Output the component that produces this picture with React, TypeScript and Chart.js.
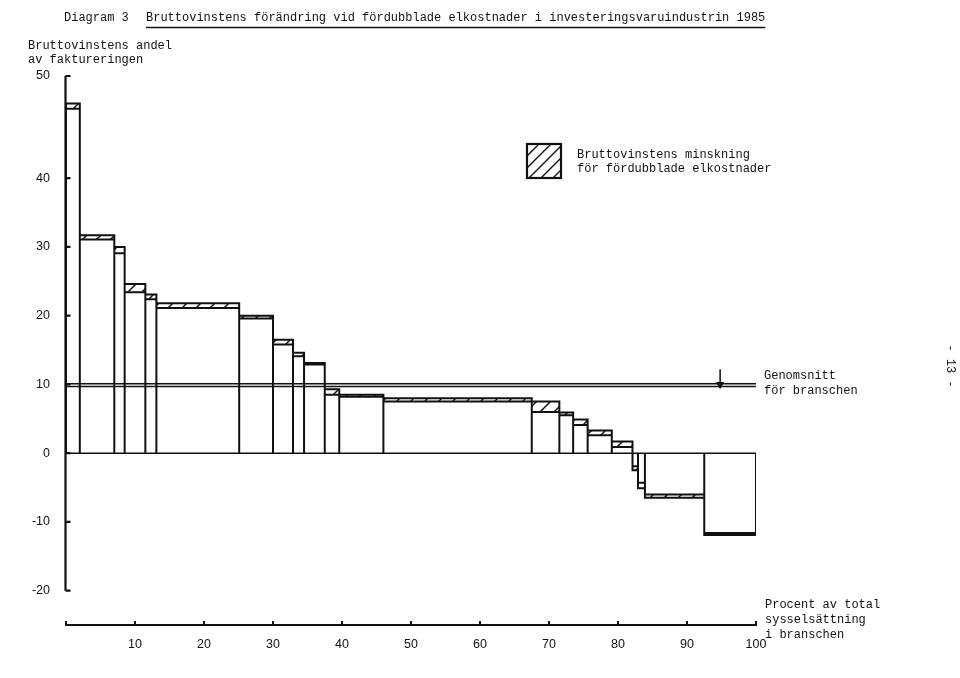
import React, { useEffect, useRef } from 'react';
import { Chart, registerables, LinearScale } from 'chart.js';

Chart.register(...registerables);

// ---- Data ----
// Share of total employment in the industry group for each branch (%), left to right
const employmentShare = [2.0, 5.0, 1.5, 3.0, 1.6, 12.0, 4.9, 2.9, 1.6, 3.0, 2.1, 6.4, 21.5, 4.0, 2.0, 2.1, 3.5, 3.0, 0.8, 1.0, 8.6, 7.5];
// Gross profit as share of invoicing, before doubled electricity costs (%)
const profitBefore = [47.3, 31.7, 30.0, 24.6, 23.1, 21.8, 20.0, 16.5, 14.6, 13.1, 9.3, 8.5, 8.0, 7.5, 5.9, 4.9, 3.3, 1.7, -1.9, -4.3, -6.0, -11.6];
// Gross profit as share of invoicing, after doubled electricity costs (%)
const profitAfter = [46.8, 31.1, 29.1, 23.4, 22.4, 21.1, 19.6, 15.8, 14.1, 12.9, 8.5, 8.2, 7.5, 6.0, 5.5, 4.1, 2.6, 0.9, -2.5, -5.1, -6.5, -11.9];
// Industry average (before / after)
const averageBefore = 10.1;
const averageAfter = 9.7;
const averageMarkerX = 94.8;
const averageMarkerTop = 12.2;

const xTicks = [0, 10, 20, 30, 40, 50, 60, 70, 80, 90, 100];
const yTicks = [-20, -10, 0, 10, 20, 30, 40, 50];
const Y_MIN = -25;

// The original y axis is compressed differently above 40 (the 50 tick sits higher)
const BREAK_AT = 40;
const STRETCH = 1.487;
function warp(v: any) {
  if (v === null || v === undefined) return v;
  return v > BREAK_AT ? BREAK_AT + (v - BREAK_AT) * STRETCH : v;
}
function unwarp(t: number) {
  return t > BREAK_AT ? BREAK_AT + (t - BREAK_AT) / STRETCH : t;
}

class BrokenLinearScale extends LinearScale {
  static id = 'brokenLinear';
  static defaults = (LinearScale as any).defaults;
  getPixelForValue(value: any) {
    return super.getPixelForValue(warp(value));
  }
  getValueForPixel(pixel: number) {
    return unwarp(super.getValueForPixel(pixel) as number);
  }
}
Chart.register(BrokenLinearScale as any);

const INK = '#111111';
const MONO = '"Liberation Mono", "DejaVu Sans Mono", monospace';
const SANS = '"Liberation Sans", "DejaVu Sans", sans-serif';

function makeHatch(size: number) {
  const c = document.createElement('canvas');
  c.width = size;
  c.height = size;
  const g = c.getContext('2d')!;
  g.fillStyle = '#ffffff';
  g.fillRect(0, 0, size, size);
  g.strokeStyle = INK;
  g.lineWidth = 1.5;
  g.beginPath();
  g.moveTo(0, size);
  g.lineTo(size, 0);
  g.moveTo(-2, 2);
  g.lineTo(2, -2);
  g.moveTo(size - 2, size + 2);
  g.lineTo(size + 2, size - 2);
  g.stroke();
  return g.createPattern(c, 'repeat');
}

const decorPlugin = {
  id: 'decor',
  afterDraw(chart: any) {
    const { ctx, chartArea } = chart;
    const x = chart.scales.x;
    const y = chart.scales.y;
    ctx.save();
    ctx.strokeStyle = INK;
    ctx.fillStyle = INK;

    // Y axis line with inward ticks
    const ax = chartArea.left - 0.5;
    ctx.lineWidth = 2.2;
    ctx.beginPath();
    ctx.moveTo(ax, y.getPixelForValue(yTicks[yTicks.length - 1]));
    ctx.lineTo(ax, y.getPixelForValue(yTicks[0]));
    yTicks.forEach((v) => {
      const py = y.getPixelForValue(v);
      ctx.moveTo(ax, py);
      ctx.lineTo(ax + 5, py);
    });
    ctx.stroke();

    // X axis line with inward ticks
    const by = chartArea.bottom;
    ctx.lineWidth = 2;
    ctx.beginPath();
    ctx.moveTo(x.getPixelForValue(xTicks[0]) - 1, by);
    ctx.lineTo(x.getPixelForValue(xTicks[xTicks.length - 1]) + 1, by);
    xTicks.forEach((v) => {
      const px = x.getPixelForValue(v);
      ctx.moveTo(px, by);
      ctx.lineTo(px, by - 4);
    });
    ctx.stroke();

    // Texts
    ctx.font = '12px ' + MONO;
    ctx.textBaseline = 'middle';
    ctx.textAlign = 'left';
    ctx.fillText('Diagram 3', 64, 18);
    const titleText = 'Bruttovinstens förändring vid fördubblade elkostnader i investeringsvaruindustrin 1985';
    ctx.fillText(titleText, 146, 18);
    const tw = ctx.measureText(titleText).width;
    ctx.lineWidth = 1.5;
    ctx.beginPath();
    ctx.moveTo(146, 27.5);
    ctx.lineTo(146 + tw, 27.5);
    ctx.stroke();

    ctx.fillText('Bruttovinstens andel', 28, 46);
    ctx.fillText('av faktureringen', 28, 60);

    // Legend
    const lx = 527, ly = 144, ls = 34;
    ctx.save();
    ctx.beginPath();
    ctx.rect(lx, ly, ls, ls);
    ctx.clip();
    ctx.lineWidth = 1.4;
    ctx.beginPath();
    for (let k = -ls; k <= ls * 2; k += 12) {
      ctx.moveTo(lx + k, ly + ls);
      ctx.lineTo(lx + k + ls, ly);
    }
    ctx.stroke();
    ctx.restore();
    ctx.lineWidth = 2.2;
    ctx.strokeRect(lx, ly, ls, ls);
    ctx.fillText('Bruttovinstens minskning', 577, 155);
    ctx.fillText('för fördubblade elkostnader', 577, 169);

    ctx.fillText('Genomsnitt', 764, 376);
    ctx.fillText('för branschen', 764, 391);

    ctx.fillText('Procent av total', 765, 605);
    ctx.fillText('sysselsättning', 765, 620);
    ctx.fillText('i branschen', 765, 635);

    // page number
    ctx.save();
    ctx.translate(950, 366);
    ctx.rotate(Math.PI / 2);
    ctx.textAlign = 'center';
    ctx.fillText('- 13 -', 0, 0);
    ctx.restore();

    ctx.restore();
  },
};

export default function App() {
  const ref = useRef<HTMLCanvasElement | null>(null);

  useEffect(() => {
    document.body.style.margin = '0';
    const canvas = ref.current;
    if (!canvas) return;
    const hatch = makeHatch(14);

    const bounds: number[] = [0];
    employmentShare.forEach((w) => bounds.push(Math.round((bounds[bounds.length - 1] + w) * 100) / 100));

    const outline: any[] = [];
    const inner: any[] = [];
    const hatchSets: any[] = [];
    profitBefore.forEach((b, i) => {
      const a = profitAfter[i];
      const x0 = bounds[i];
      const x1 = bounds[i + 1];
      const ext = Math.abs(b) >= Math.abs(a) ? b : a;
      const inn = ext === b ? a : b;
      outline.push({ x: x0, y: 0 }, { x: x0, y: ext }, { x: x1, y: ext }, { x: x1, y: 0 }, { x: x1, y: null });
      inner.push({ x: x0, y: inn }, { x: x1, y: inn }, { x: x1, y: null });
      hatchSets.push({
        data: [{ x: x0, y: ext }, { x: x1, y: ext }],
        borderColor: 'rgba(0,0,0,0)',
        borderWidth: 1,
        backgroundColor: hatch,
        fill: { value: inn },
        pointRadius: 0,
      });
    });

    const datasets: any[] = [
      { data: outline, borderColor: INK, borderWidth: 2, fill: false, pointRadius: 0 },
      { data: inner, borderColor: INK, borderWidth: 2, fill: false, pointRadius: 0 },
      { data: [{ x: 0, y: 0 }, { x: 100, y: 0 }], borderColor: INK, borderWidth: 1.5, fill: false, pointRadius: 0 },
      { data: [{ x: 0, y: averageBefore }, { x: 100, y: averageBefore }], borderColor: INK, borderWidth: 1.4, fill: false, pointRadius: 0 },
      { data: [{ x: 0, y: averageAfter }, { x: 100, y: averageAfter }], borderColor: INK, borderWidth: 1.4, fill: false, pointRadius: 0 },
      { data: [{ x: averageMarkerX, y: averageMarkerTop }, { x: averageMarkerX, y: averageBefore }], borderColor: INK, borderWidth: 1.5, fill: false, pointRadius: 0 },
      {
        data: [{ x: averageMarkerX, y: averageBefore - 0.1 }],
        showLine: false,
        pointStyle: 'triangle',
        rotation: 180,
        pointRadius: 4,
        pointBackgroundColor: INK,
        pointBorderColor: INK,
        pointBorderWidth: 1,
      },
      ...hatchSets,
    ];

    const tickFont = { family: SANS, size: 12.5 };

    const chart = new Chart(canvas, {
      type: 'line',
      data: { datasets },
      options: {
        responsive: false,
        animation: false,
        events: [],
        layout: { padding: { left: 0, right: 204, top: 76, bottom: 0 } },
        plugins: {
          legend: { display: false },
          tooltip: { enabled: false },
          title: { display: false },
        },
        elements: { line: { tension: 0 }, point: { radius: 0 } },
        scales: {
          x: {
            type: 'linear',
            min: 0,
            max: 100,
            afterBuildTicks: (s: any) => {
              s.ticks = xTicks.map((v) => ({ value: v }));
            },
            afterFit: (s: any) => {
              s.height = 53;
            },
            grid: { display: false },
            border: { display: false },
            ticks: {
              autoSkip: false,
              maxRotation: 0,
              padding: 4,
              font: tickFont,
              color: INK,
              callback: (v: any) => (v === 0 ? '' : String(v)),
            },
          },
          y: {
            type: 'brokenLinear' as any,
            min: Y_MIN,
            max: warp(50),
            bounds: 'data',
            afterBuildTicks: (s: any) => {
              s.ticks = yTicks.map((v) => ({ value: v }));
            },
            afterFit: (s: any) => {
              s.width = 66;
            },
            grid: { display: false },
            border: { display: false },
            ticks: {
              padding: 8,
              font: tickFont,
              color: INK,
              callback: (v: any) => String(v),
            },
          } as any,
        },
      } as any,
      plugins: [decorPlugin],
    });

    return () => chart.destroy();
  }, []);

  return (
    <div style={{ position: 'absolute', left: 0, top: 0, width: 960, height: 678, background: '#fff' }}>
      <canvas ref={ref} width={960} height={678} />
    </div>
  );
}
